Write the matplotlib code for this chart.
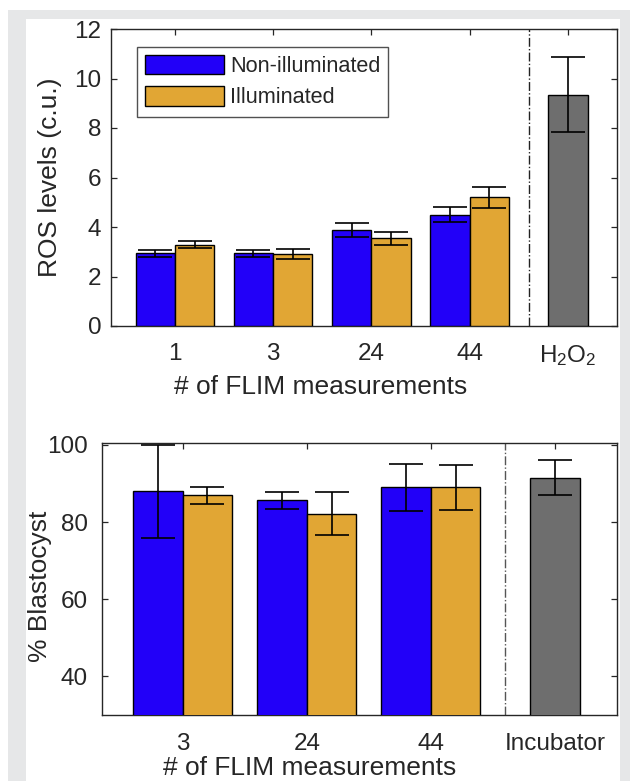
import matplotlib
matplotlib.use("Agg")
import matplotlib.pyplot as plt
from matplotlib.patches import Rectangle, Patch
import numpy as np

plt.rcParams['font.family'] = ['Liberation Sans', 'DejaVu Sans']
plt.rcParams['mathtext.fontset'] = 'custom'
plt.rcParams['mathtext.rm'] = 'Liberation Sans'

# ---- data: top panel (ROS levels) ----
ros_cats = ['1', '3', '24', '44']
ros_non = [2.93, 2.93, 3.88, 4.50]
ros_non_err = [0.14, 0.14, 0.28, 0.30]
ros_ill = [3.29, 2.92, 3.55, 5.20]
ros_ill_err = [0.13, 0.21, 0.26, 0.42]
ros_ctrl_label = r'$\mathregular{H_2O_2}$'
ros_ctrl = 9.35
ros_ctrl_err = 1.50

# ---- data: bottom panel (% Blastocyst) ----
bl_cats = ['3', '24', '44']
bl_non = [88.0, 85.7, 89.0]
bl_non_err = [12.0, 2.2, 6.1]
bl_ill = [86.9, 82.2, 89.0]
bl_ill_err = [2.2, 5.6, 5.9]
bl_ctrl_label = 'Incubator'
bl_ctrl = 91.5
bl_ctrl_err = 4.6

BLUE = '#2200F8'
ORANGE = '#E1A634'
GRAY = '#6E6E6E'
TXT = '#262626'
FS_TICK = 17.5
FS_LAB = 19
FS_LEG = 15.6

W, H = 630, 781
fig = plt.figure(figsize=(W / 100, H / 100), dpi=100)
fig.patch.set_facecolor('white')
fig.patches.append(Rectangle((8 / W, 0), 622 / W, 1 - 10 / H, transform=fig.transFigure,
                             facecolor='#E6E7E8', edgecolor='none', zorder=-10))
fig.patches.append(Rectangle((26 / W, 0), 594 / W, 1 - 19 / H, transform=fig.transFigure,
                             facecolor='white', edgecolor='none', zorder=-9))


def px_axes(l, t, r, b):
    return fig.add_axes([l / W, 1 - b / H, (r - l) / W, (b - t) / H])


def style(ax, xpad, ypad):
    for s in ax.spines.values():
        s.set_color(TXT)
        s.set_linewidth(1.0)
    ax.tick_params(direction='in', length=4, width=0.9, colors=TXT, labelsize=FS_TICK,
                   top=True, right=True)
    ax.tick_params(axis='x', pad=xpad)
    ax.tick_params(axis='y', pad=ypad)


errkw = dict(fmt='none', ecolor='black', elinewidth=1.2, capsize=12, capthick=1.2, zorder=5)
bw = 0.4

# ---------------- top panel ----------------
ax1 = px_axes(111, 29, 617, 326)
x = np.arange(1, len(ros_cats) + 1)
ax1.bar(x - bw / 2, ros_non, bw, color=BLUE, edgecolor='black', linewidth=1.0, zorder=3)
ax1.bar(x + bw / 2, ros_ill, bw, color=ORANGE, edgecolor='black', linewidth=1.0, zorder=3)
ax1.errorbar(x - bw / 2, ros_non, yerr=ros_non_err, **errkw)
ax1.errorbar(x + bw / 2, ros_ill, yerr=ros_ill_err, **errkw)
xc = len(ros_cats) + 1
ax1.bar([xc], [ros_ctrl], bw, color=GRAY, edgecolor='black', linewidth=1.0, zorder=3)
ax1.errorbar([xc], [ros_ctrl], yerr=[ros_ctrl_err], **errkw)
ax1.axvline(xc - 0.4, color='#222222', linestyle='-.', linewidth=1.0, zorder=2)
ax1.set_xlim(0.35, 5.5)
ax1.set_ylim(0, 12)
ax1.set_yticks(np.arange(0, 13, 2))
ax1.set_xticks(list(x) + [xc])
ax1.set_xticklabels(ros_cats + [ros_ctrl_label])
style(ax1, 12, 7)
ax1.set_ylabel('ROS levels (c.u.)', fontsize=FS_LAB, color=TXT)
ax1.yaxis.set_label_coords((50 - 111) / 506, 0.5)
ax1.set_xlabel('# of FLIM measurements', fontsize=FS_LAB, color=TXT)
ax1.xaxis.set_label_coords((321 - 111) / 506, -(387 - 326) / 297)
ax1.xaxis.label.set_va('center')
ax1.yaxis.label.set_va('center')

handles = [Patch(facecolor=BLUE, edgecolor='black', linewidth=1.0, label='Non-illuminated'),
           Patch(facecolor=ORANGE, edgecolor='black', linewidth=1.0, label='Illuminated')]
leg = ax1.legend(handles=handles, loc='upper left', bbox_to_anchor=(0.0506, 0.94),
                 borderaxespad=0, fontsize=FS_LEG, frameon=True, fancybox=False,
                 edgecolor=TXT, handlelength=3.64, handleheight=1.0, handletextpad=0.28,
                 labelspacing=0.42, borderpad=0.38)
leg.get_frame().set_linewidth(1.0)
for t in leg.get_texts():
    t.set_color(TXT)

# ---------------- bottom panel ----------------
ax2 = px_axes(102, 443, 617, 715)
x2 = np.arange(1, len(bl_cats) + 1)
ax2.bar(x2 - bw / 2, bl_non, bw, color=BLUE, edgecolor='black', linewidth=1.0, zorder=3)
ax2.bar(x2 + bw / 2, bl_ill, bw, color=ORANGE, edgecolor='black', linewidth=1.0, zorder=3)
ax2.errorbar(x2 - bw / 2, bl_non, yerr=bl_non_err, **errkw)
ax2.errorbar(x2 + bw / 2, bl_ill, yerr=bl_ill_err, **errkw)
xc2 = len(bl_cats) + 1
ax2.bar([xc2], [bl_ctrl], bw, color=GRAY, edgecolor='black', linewidth=1.0, zorder=3)
ax2.errorbar([xc2], [bl_ctrl], yerr=[bl_ctrl_err], **errkw)
ax2.axvline(xc2 - 0.4, color='#555555', linestyle='-.', linewidth=1.0, zorder=2)
ax2.set_xlim(0.35, 4.5)
ax2.set_ylim(30, 100.5)
ax2.set_yticks([40, 60, 80, 100])
ax2.set_xticks(list(x2) + [xc2])
ax2.set_xticklabels(bl_cats + [bl_ctrl_label])
style(ax2, 13, 10)
ax2.set_ylabel('% Blastocyst', fontsize=FS_LAB, color=TXT)
ax2.yaxis.set_label_coords((40 - 102) / 515, 1 - (586 - 443) / 272)
ax2.set_xlabel('# of FLIM measurements', fontsize=FS_LAB, color=TXT)
ax2.xaxis.set_label_coords((309.5 - 102) / 515, -(780 - 715) / 272)
ax2.xaxis.label.set_va('bottom')
ax2.yaxis.label.set_va('center')

fig.savefig('out.png', dpi=100)
